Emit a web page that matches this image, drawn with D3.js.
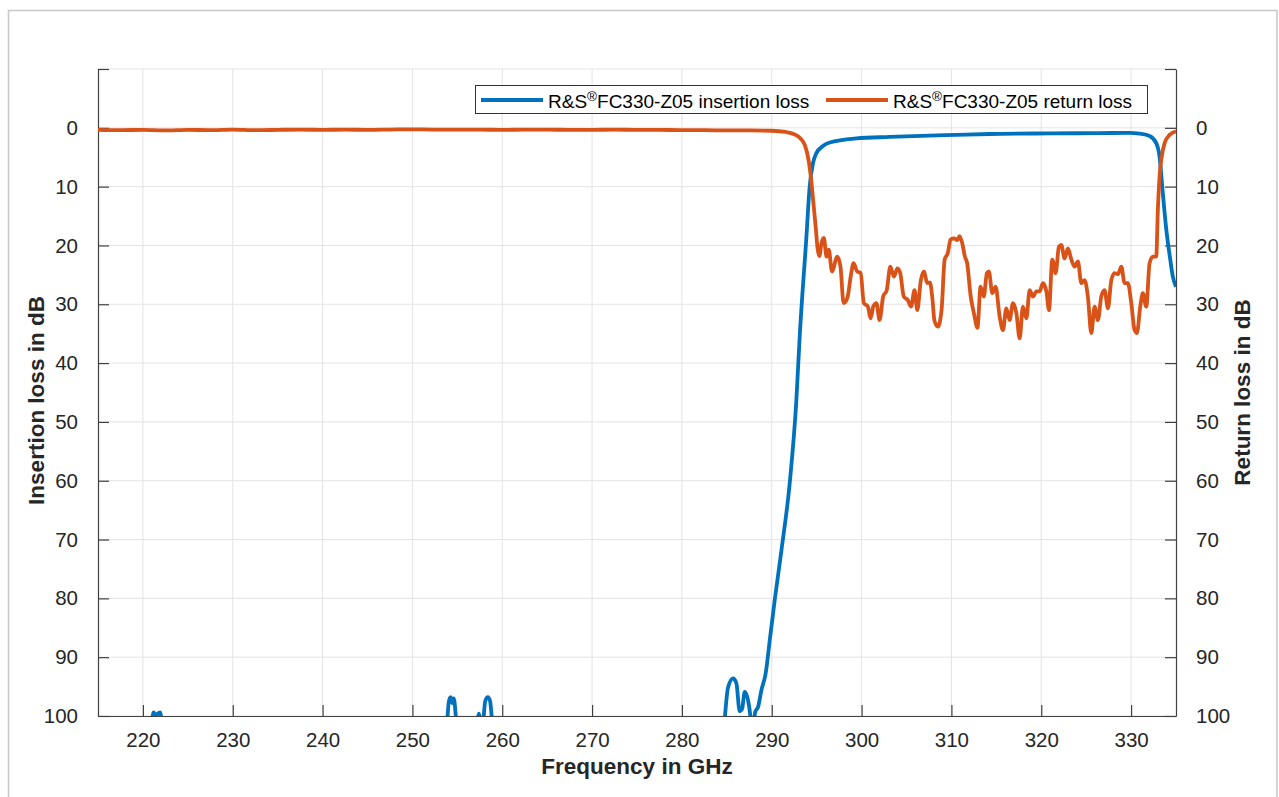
<!DOCTYPE html>
<html>
<head>
<meta charset="utf-8">
<script src="https://cdn.jsdelivr.net/npm/d3@7"></script>
<style>
  html, body { margin: 0; padding: 0; background: #fff; }
  svg { display: block; font-family: "Liberation Sans", Arial, sans-serif; }
</style>
</head>
<body>
<svg id="chart" width="1279" height="797"></svg>
<script>
// ---- data ----
const xTicks = [220, 230, 240, 250, 260, 270, 280, 290, 300, 310, 320, 330];
const yTicks = [0, 10, 20, 30, 40, 50, 60, 70, 80, 90, 100];
const seriesNames = ["R&S\u00AEFC330-Z05 insertion loss", "R&S\u00AEFC330-Z05 return loss"];

// insertion loss (dB, shown positive downward)
const insFreq = [215, 220.9, 221.2, 221.45, 221.65, 221.9, 222.2, 230, 240, 250, 253.8, 254.05, 254.25, 254.45, 254.6, 254.95,
  256, 257.2, 257.4, 257.6, 257.85, 258.1, 258.4, 258.65, 258.95, 265, 275, 284.6,
  284.77, 285.13, 285.69, 286.06, 286.43, 286.7, 286.99, 287.36, 287.63, 287.77, 288.0, 288.16, 288.47, 288.85,
  289.33, 289.78, 290.33, 291.08, 292.0, 292.74, 293.11, 293.86, 294.22, 294.59, 294.97, 295.7, 296.45,
  299.42, 303.13, 310.55, 314.25, 320.93, 326.5, 329.8, 330.95, 332.06, 332.8, 333.17, 333.47, 333.92, 334.36, 334.65, 335];
const insLoss = [104, 101.5, 99.4, 99.9, 99.6, 99.4, 101.5, 104, 104, 104, 101.5, 97.6, 96.8, 97.8, 97.0, 101.5,
  104, 101, 99.6, 101, 101, 97.5, 96.8, 97.5, 101.5, 104, 104, 104,
  100.5, 95.2, 93.6, 94.4, 99.2, 98.8, 95.9, 97.3, 100.2, 103, 101, 99.3, 98.5, 95.6,
  92.7, 87.1, 80.3, 71.8, 60.4, 46.3, 35.5, 18.5, 10, 6, 4.3, 3.1, 2.5,
  1.8, 1.55, 1.2, 1.05, 0.95, 0.9, 0.85, 1.0, 1.4, 2.6, 4.9, 10, 17.3, 22.4, 25.3, 27];

// return loss
const retFreq = [215, 217.5, 220, 222.5, 225, 227.5, 230, 232.5, 235, 237.5, 240, 242.5, 245, 247.5, 250, 252.5, 255,
  257.5, 260, 262.5, 265, 267.5, 270, 272.5, 275, 277.5, 280, 282.5, 285, 287.5, 290, 291.5, 292.5, 293.2, 293.7,
  294.1, 294.4, 294.65, 294.9, 295.1, 295.3, 295.55, 295.8, 296.1, 296.35, 296.7, 297.3, 297.65, 298.0, 298.4,
  298.85, 299.1, 299.5, 299.9, 300.25, 300.7, 301.0, 301.3, 301.65, 302.0, 302.4, 302.8, 303.2, 303.6, 304.0,
  304.3, 304.7, 305.15, 305.5, 305.9, 306.2, 306.6, 306.95, 307.3, 307.6, 307.9, 308.1, 308.5, 308.9, 309.25,
  309.6, 309.9, 310.3, 310.65, 310.9, 311.2, 311.5, 311.75, 312.15, 312.5, 312.9, 313.25, 313.6, 313.95, 314.17,
  314.55, 314.92, 315.37, 315.74, 316.11, 316.48, 316.85, 317.23, 317.6, 317.96, 318.34, 318.71, 319.08, 319.46,
  319.82, 320.19, 320.57, 320.86, 321.23, 321.6, 321.97, 322.23, 322.6, 322.97, 323.35, 323.72, 324.08, 324.46,
  324.83, 325.19, 325.57, 325.94, 326.31, 326.68, 327.05, 327.42, 327.8, 328.16, 328.53, 328.91, 329.28, 329.64,
  330.02, 330.39, 330.65, 331.02, 331.31, 331.69, 332.06, 332.43, 332.8, 332.98, 333.17, 333.36, 333.73, 334.29, 335];
const retLoss = [0.35, 0.4, 0.35, 0.45, 0.35, 0.4, 0.3, 0.4, 0.35, 0.3, 0.35, 0.3, 0.35, 0.3, 0.25, 0.3, 0.3,
  0.3, 0.35, 0.3, 0.3, 0.35, 0.35, 0.3, 0.35, 0.35, 0.4, 0.4, 0.45, 0.45, 0.5, 0.7, 1.1, 1.8, 3.0,
  5.5, 9, 13, 17, 20.5, 21.8, 19.5, 18.7, 21.9, 20.7, 24.4, 21.9, 23.6, 29.8, 29,
  24.7, 23, 24.4, 24.7, 29.8, 30.4, 32.4, 30.4, 29.8, 32.7, 28.7, 27.6, 23.6, 25.3, 23.9,
  24.7, 28.7, 29.3, 30.4, 27.6, 31, 25.9, 24.4, 26.4, 26.3, 29.3, 32.7, 33.8, 31, 22.4,
  21.3, 19, 18.8, 19.1, 18.4, 19.6, 21.9, 23, 28.7, 31.5, 34, 27, 28.7, 24.7, 24.4,
  28.1, 27, 32.1, 34.4, 30.7, 32.7, 29.8, 31.5, 35.8, 30.4, 32.4, 27.6, 28.7, 27.8,
  27.8, 26.4, 27.8, 31, 22.4, 24.7, 20.2, 19.9, 22.2, 20.5, 22.4, 23.6, 22.7, 26.4,
  25.9, 28.7, 34.9, 30.4, 32.7, 28.7, 27.6, 30.7, 25.9, 24.7, 24.9, 23.6, 26.4, 26.4,
  29.8, 34.4, 34.9, 30.4, 28.1, 30.4, 23, 21.9, 21.9, 14, 8.3, 5.4, 2.6, 1.2, 0.6];

// ---- layout ----
const svg = d3.select("#chart");
const L = 98, R = 1176, T = 69, B = 716;
const x = d3.scaleLinear().domain([215, 335]).range([L, R]);
const y = d3.scaleLinear().domain([-10, 100]).range([T, B]);
const colors = ["#0072BD", "#D95319"];
const axisColor = "#404040", textColor = "#262626", gridColor = "#e3e3e3";
const FONT = '"Liberation Sans", Arial, sans-serif';

// outer frame
svg.append("rect").attr("x", 8.5).attr("y", 10.5).attr("width", 1268.5).attr("height", 800)
  .attr("fill", "#fff").attr("stroke", "#c8c8c8").attr("stroke-width", 1.5);

// grid
const grid = svg.append("g");
grid.selectAll("line.gx").data(xTicks).join("line")
  .attr("x1", d => x(d)).attr("x2", d => x(d)).attr("y1", T).attr("y2", B)
  .attr("stroke", gridColor).attr("stroke-width", 1);
grid.selectAll("line.gy").data([-10].concat(yTicks)).join("line")
  .attr("x1", L).attr("x2", R).attr("y1", d => y(d)).attr("y2", d => y(d))
  .attr("stroke", gridColor).attr("stroke-width", 1);

// axes
const fs = 20.5;
const xAxis = d3.axisBottom(x).tickValues(xTicks).tickSizeInner(-11).tickSizeOuter(0).tickPadding(16);
const gx = svg.append("g").attr("transform", `translate(0,${B})`).call(xAxis);
const yAxisL = d3.axisLeft(y).tickValues([-10].concat(yTicks)).tickSizeInner(-11).tickSizeOuter(0).tickPadding(20)
  .tickFormat(d => d < 0 ? "" : d);
const gyl = svg.append("g").attr("transform", `translate(${L},0)`).call(yAxisL);
const yAxisR = d3.axisRight(y).tickValues([-10].concat(yTicks)).tickSizeInner(-11).tickSizeOuter(0).tickPadding(20)
  .tickFormat(d => d < 0 ? "" : d);
const gyr = svg.append("g").attr("transform", `translate(${R},0)`).call(yAxisR);
[gx, gyl, gyr].forEach(g => {
  g.select(".domain").attr("stroke", axisColor).attr("stroke-width", 1.2);
  g.selectAll(".tick line").attr("stroke", axisColor).attr("stroke-width", 1.2);
  g.selectAll(".tick text").attr("fill", textColor).style("font-size", fs + "px")
    .style("font-family", FONT);
});

// clip
svg.append("clipPath").attr("id", "clip").append("rect")
  .attr("x", L).attr("y", T).attr("width", R - L).attr("height", B - T);

const line = d3.line().x(d => x(d[0])).y(d => y(d[1])).curve(d3.curveMonotoneX);
const insData = insFreq.map((f, i) => [f, insLoss[i]]);
const retData = retFreq.map((f, i) => [f, retLoss[i]]);
const plot = svg.append("g").attr("clip-path", "url(#clip)");
plot.append("path").datum(insData).attr("d", line).attr("fill", "none")
  .attr("stroke", colors[0]).attr("stroke-width", 3.8).attr("stroke-linejoin", "round");
plot.append("path").datum(retData).attr("d", line).attr("fill", "none")
  .attr("stroke", colors[1]).attr("stroke-width", 3.8).attr("stroke-linejoin", "round");

// axis labels
const lfs = "22.5px";
svg.append("text").attr("x", (L + R) / 2).attr("y", 774).attr("text-anchor", "middle")
  .attr("fill", textColor).style("font-size", lfs).style("font-weight", "bold").text("Frequency in GHz");
svg.append("text").attr("transform", `translate(44,${(T + B) / 2 + 8}) rotate(-90)`).attr("text-anchor", "middle")
  .attr("fill", textColor).style("font-size", lfs).style("font-weight", "bold").text("Insertion loss in dB");
svg.append("text").attr("transform", `translate(1250,${(T + B) / 2}) rotate(-90)`).attr("text-anchor", "middle")
  .attr("fill", textColor).style("font-size", lfs).style("font-weight", "bold").text("Return loss in dB");

// legend
const lg = svg.append("g");
lg.append("rect").attr("x", 475.5).attr("y", 85.5).attr("width", 672).attr("height", 28)
  .attr("fill", "#fff").attr("stroke", "#333").attr("stroke-width", 1);
const entries = [{x0: 481, tx: 548}, {x0: 826, tx: 893}];
entries.forEach((e, i) => {
  lg.append("line").attr("x1", e.x0).attr("x2", e.x0 + 62).attr("y1", 100).attr("y2", 100)
    .attr("stroke", colors[i]).attr("stroke-width", 3.8);
  const t = lg.append("text").attr("x", e.tx).attr("y", 107.5).attr("fill", "#000").style("font-size", "19px");
  const parts = seriesNames[i].split("\u00AE");
  t.append("tspan").text(parts[0]);
  t.append("tspan").attr("dy", -7).style("font-size", "13.5px").text("\u00AE");
  t.append("tspan").attr("dy", 7).text(parts[1]);
});
</script>
</body>
</html>
